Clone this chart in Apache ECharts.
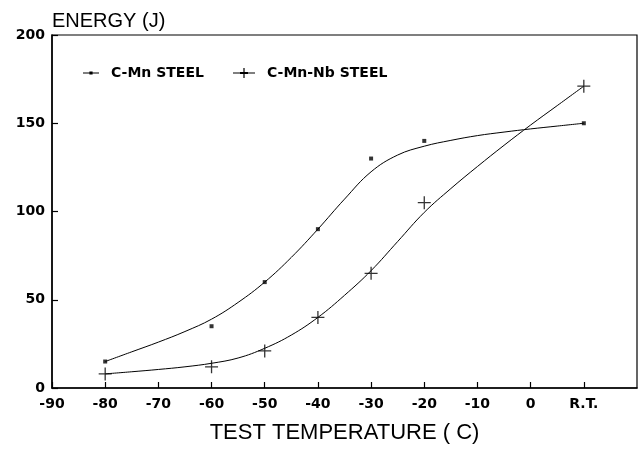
<!DOCTYPE html>
<html>
<head>
<meta charset="utf-8">
<script src="https://cdn.jsdelivr.net/npm/echarts@6/dist/echarts.min.js"></script>
<style>
html,body{margin:0;padding:0;background:#fff;}
#chart{width:640px;height:449px;}
</style>
</head>
<body>
<div id="chart"></div>
<script>
// Measured points (10 on the axis = "R.T.")
const temps = [-80, -60, -50, -40, -30, -20, 10];
const cmnEnergy = [15, 35, 60, 90, 130, 140, 150];
const nbEnergy = [8, 12, 21, 40, 65, 105, 171];

// Hand-drawn fitted curves
const curveTemps = [-80, -75, -70, -65, -60, -55, -50, -45, -40, -35, -30, -25, -20, -15, -10, -5, 0, 5, 10];
const cmnCurve = [15, 20.5, 26, 32, 39, 48.5, 60, 74, 90, 107, 122.5, 132, 137, 140.3, 143, 145, 146.8, 148.4, 150];
const nbCurve = [8, 9.2, 10.5, 12, 14, 17, 22.5, 30, 40, 52.5, 66.5, 83, 99.5, 113, 125.5, 137.5, 149, 160, 171];

// Axis ticks
const xTickValues = [-90, -80, -70, -60, -50, -40, -30, -20, -10, 0, 10];
const xTickLabels = ['-90', '-80', '-70', '-60', '-50', '-40', '-30', '-20', '-10', '0', 'R.T.'];
const yTickValues = [0, 50, 100, 150, 200];

const seriesNames = ['C-Mn STEEL', 'C-Mn-Nb STEEL'];

const pair = (xs, ys) => xs.map((x, i) => [x, ys[i]]);

const plusPath = 'path://M0,5.4H12V6.6H0Z M5.4,0H6.6V12H5.4Z';
const labelFont = 'DejaVu Sans';

const chart = echarts.init(document.getElementById('chart'), null, {renderer: 'canvas'});
chart.setOption({
  backgroundColor: '#fff',
  animation: false,
  grid: {left: 52, right: 3, top: 35, bottom: 58, show: true, borderColor: '#000', borderWidth: 1.2, backgroundColor: 'transparent'},
  legend: [
    {
      data: [{name: seriesNames[0], icon: 'path://M0,4.4H16V5.6H0Z M6.4,3.4H9.6V6.6H6.4Z'}],
      left: 78, top: 61, itemWidth: 16, itemHeight: 10,
      textStyle: {fontFamily: labelFont, fontWeight: 'bold', fontSize: 14, color: '#000', padding: [0, 0, 0, 7]}
    },
    {
      data: [{name: seriesNames[1], icon: 'path://M0,4.4H22V5.6H0Z M10.4,0H11.6V10H10.4Z M7,4.1H15V5.9H7Z'}],
      left: 228, top: 61, itemWidth: 22, itemHeight: 10,
      textStyle: {fontFamily: labelFont, fontWeight: 'bold', fontSize: 14, color: '#000', padding: [0, 0, 0, 7]}
    }
  ],
  xAxis: {
    type: 'value', min: -90, max: 20, interval: 10,
    name: 'TEST TEMPERATURE ( C)', nameLocation: 'middle', nameGap: 34,
    nameTextStyle: {fontFamily: 'Liberation Sans', fontSize: 22, color: '#000'},
    axisLine: {show: true, onZero: false, lineStyle: {color: '#000', width: 1.5}},
    axisTick: {show: true, inside: true, length: 6, lineStyle: {color: '#000', width: 1.2}},
    axisLabel: {
      margin: 9, color: '#000', fontFamily: labelFont, fontWeight: 'bold', fontSize: 14,
      showMaxLabel: false,
      formatter: v => { const i = xTickValues.indexOf(v); return i >= 0 ? xTickLabels[i] : ''; }
    },
    splitLine: {show: false}
  },
  yAxis: {
    type: 'value', min: 0, max: 200, interval: 50,
    name: 'ENERGY (J)', nameLocation: 'end', nameGap: 4,
    nameTextStyle: {fontFamily: 'Liberation Sans', fontSize: 20, color: '#000', align: 'left', verticalAlign: 'bottom'},
    axisLine: {show: true, onZero: false, lineStyle: {color: '#000', width: 1.5}},
    axisTick: {show: true, inside: true, length: 6, lineStyle: {color: '#000', width: 1.2}},
    axisLabel: {
      margin: 7, color: '#000', fontFamily: labelFont, fontWeight: 'bold', fontSize: 14,
      formatter: v => (yTickValues.indexOf(v) >= 0 ? String(v) : '')
    },
    splitLine: {show: false}
  },
  series: [
    {
      name: seriesNames[0], type: 'line', data: pair(curveTemps, cmnCurve),
      smooth: 0.4, showSymbol: false, symbol: 'none',
      lineStyle: {color: '#000', width: 1}, itemStyle: {color: '#000'}, z: 2
    },
    {
      name: seriesNames[1], type: 'line', data: pair(curveTemps, nbCurve),
      smooth: 0.4, showSymbol: false, symbol: 'none',
      lineStyle: {color: '#000', width: 1}, itemStyle: {color: '#000'}, z: 2
    },
    {
      name: 'C-Mn points', type: 'scatter', data: pair(temps, cmnEnergy),
      symbol: 'rect', symbolSize: 4, itemStyle: {color: '#000'}, z: 3
    },
    {
      name: 'C-Mn-Nb points', type: 'scatter', data: pair(temps, nbEnergy),
      symbol: plusPath, symbolSize: 13, symbolKeepAspect: true, itemStyle: {color: '#000'}, z: 3
    }
  ]
});
</script>
</body>
</html>
